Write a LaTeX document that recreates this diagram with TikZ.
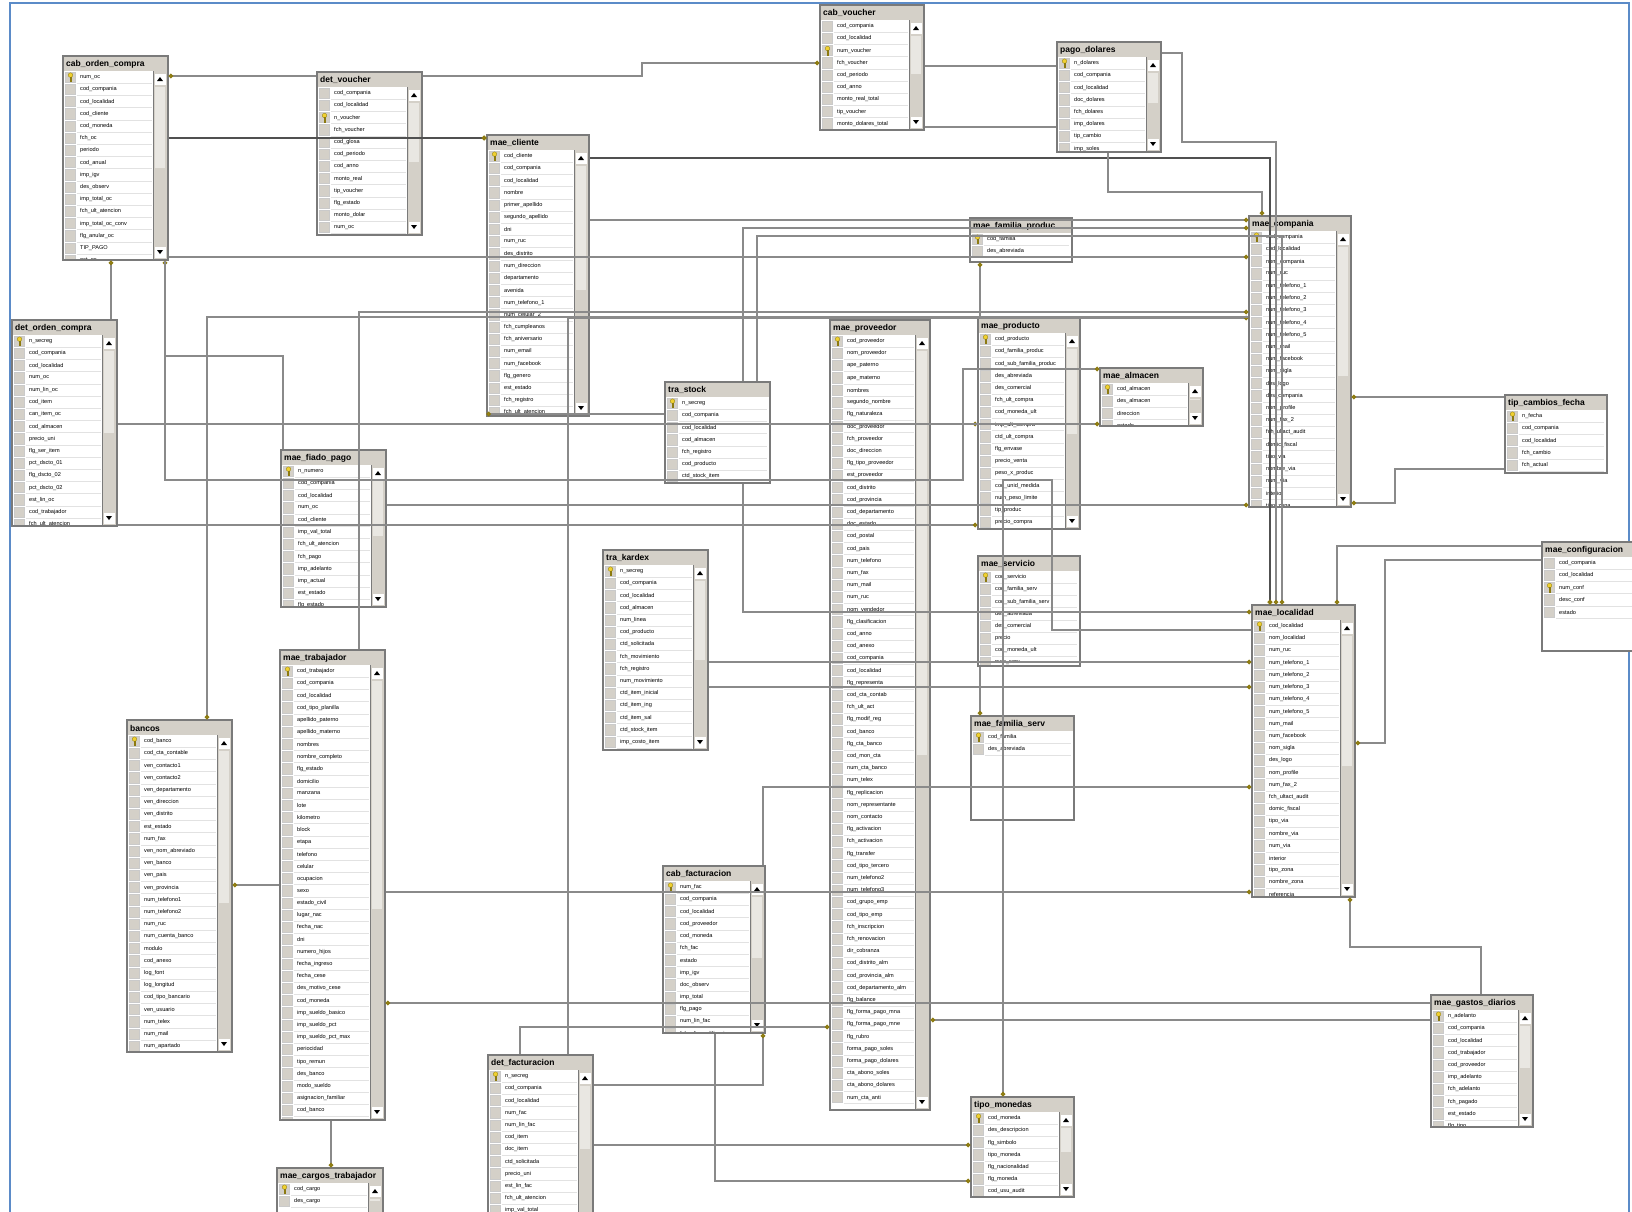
\documentclass[tikz,border=0pt]{standalone}
\usepackage{fontspec}
\setmainfont{Liberation Sans}
\usetikzlibrary{arrows.meta}
\definecolor{panelgray}{HTML}{D4D0C8}
\definecolor{framegray}{HTML}{7A7A7A}
\definecolor{linegray}{HTML}{8A8A8A}
\definecolor{darkline}{HTML}{505050}
\definecolor{keyyellow}{HTML}{F0D030}
\definecolor{keyolive}{HTML}{8C7A10}
\definecolor{sepgray}{HTML}{E2E2E2}
\definecolor{thumbgray}{HTML}{E9E7E2}
\definecolor{borderblue}{HTML}{5B8BC8}
\tikzset{
    tblbox/.style={draw=framegray, fill=white, line width=1.2, inner sep=0},
    tbltitle/.style={anchor=west, font=\bfseries\fontsize{8.5}{9}\selectfont, inner sep=0},
    rowtext/.style={anchor=west, font=\fontsize{5.6}{6}\selectfont, inner sep=0},
    link/.style={draw=linegray, line width=1.4},
    keylink/.style={link, -{Circle[length=4.5pt, color=keyolive, fill=keyyellow]}},
    heavylink/.style={keylink, draw=darkline, line width=2.2}
}
% key glyph in a row selector
\newcommand{\keyicon}[2]{%
  \fill[keyyellow, draw=keyolive, line width=0.3] ({#1},{#2-2}) circle (2.3);
  \fill[keyyellow, draw=keyolive, line width=0.3] ({#1-0.8},{#2}) rectangle ({#1+0.8},{#2+4.2});
}
% name, x, y, width, height, key row, scrollbar, title, fields
\newcommand{\dbtable}[9]{%
  \node[tblbox, minimum width=#4pt, minimum height=#5pt] (#1) at ({#2+#4/2},{#3+#5/2}) {};
  \begin{scope}
    \clip (#2,#3) rectangle ({#2+#4},{#3+#5});
    \fill[panelgray] (#2,#3) rectangle ({#2+#4},{#3+15});
    \node[tbltitle] at ({#2+3},{#3+8}) {#8};
    \ifnum#7=1
      \def\rowend{#2+#4-16}%
      \fill[panelgray] ({#2+#4-15},{#3+15}) rectangle ({#2+#4},{#3+#5});
      \fill[thumbgray] ({#2+#4-13},{#3+31}) rectangle ({#2+#4-3},{#3+#5*0.55});
      \draw[framegray, line width=0.8] ({#2+#4-15},{#3+15}) -- ({#2+#4-15},{#3+#5});
      \filldraw[fill=white, draw=panelgray] ({#2+#4-14},{#3+17}) rectangle ({#2+#4-2},{#3+29});
      \fill[black] ({#2+#4-11},{#3+25}) -- ({#2+#4-5},{#3+25}) -- ({#2+#4-8},{#3+21}) -- cycle;
      \filldraw[fill=white, draw=panelgray] ({#2+#4-14},{#3+#5-14}) rectangle ({#2+#4-2},{#3+#5-2});
      \fill[black] ({#2+#4-11},{#3+#5-10}) -- ({#2+#4-5},{#3+#5-10}) -- ({#2+#4-8},{#3+#5-6}) -- cycle;
    \else
      \def\rowend{#2+#4-3}%
    \fi
    \foreach \fld [count=\i] in {#9} {
      \pgfmathsetmacro\ry{#3+15+(\i-1)*12.2}
      \draw[sepgray, line width=0.6] ({#2+14},{\ry+12.2}) -- ({\rowend},{\ry+12.2});
      \filldraw[fill=panelgray, draw=white!60!framegray, line width=0.4] ({#2+2.5},{\ry+1}) rectangle ({#2+12.5},{\ry+11.2});
      \ifnum\i=#6 \keyicon{#2+7.5}{\ry+6.1}\fi
      \node[rowtext] at ({#2+17},{\ry+6.3}) {\fld};
    }
  \end{scope}
  \draw[framegray, line width=1.2] (#2,#3) rectangle ({#2+#4},{#3+#5});
}

\begin{document}
\catcode`\_=12
\begin{tikzpicture}[x=1pt, y=-1pt]
    \useasboundingbox (0,0) rectangle (1632,1211);
    \clip (0,0) rectangle (1632,1211);
    \fill[white] (0,0) rectangle (1632,1211);
    \draw[borderblue, line width=1.5] (10,3) rectangle (1629,1215);

    % tables
    \dbtable{cab_orden_compra}{63}{56}{105}{204}{1}{1}{cab_orden_compra}{num_oc,cod_compania,cod_localidad,cod_cliente,cod_moneda,fch_oc,periodo,cod_anual,imp_igv,des_observ,imp_total_oc,fch_ult_atencion,imp_total_oc_conv,flg_anular_oc,TIP_PAGO,est_oc}
    \dbtable{det_voucher}{317}{72}{105}{163}{3}{1}{det_voucher}{cod_compania,cod_localidad,n_voucher,fch_voucher,cod_glosa,cod_periodo,cod_anno,monto_real,tip_voucher,flg_estado,monto_dolar,num_oc}
    \dbtable{mae_cliente}{487}{135}{102}{281}{1}{1}{mae_cliente}{cod_cliente,cod_compania,cod_localidad,nombre,primer_apellido,segundo_apellido,dni,num_ruc,des_distrito,num_direccion,departamento,avenida,num_telefono_1,num_celular_2,fch_cumpleanos,fch_aniversario,num_email,num_facebook,flg_genero,est_estado,fch_registro,fch_ult_atencion}
    \dbtable{cab_voucher}{820}{5}{104}{125}{3}{1}{cab_voucher}{cod_compania,cod_localidad,num_voucher,fch_voucher,cod_periodo,cod_anno,monto_real_total,tip_voucher,monto_dolares_total}
    \dbtable{pago_dolares}{1057}{42}{104}{110}{1}{1}{pago_dolares}{n_dolares,cod_compania,cod_localidad,doc_dolares,fch_dolares,imp_dolares,tip_cambio,imp_soles}
    \dbtable{det_orden_compra}{12}{320}{105}{206}{1}{1}{det_orden_compra}{n_secreg,cod_compania,cod_localidad,num_oc,num_lin_oc,cod_item,can_item_oc,cod_almacen,precio_uni,flg_ser_item,pct_dscto_01,flg_dscto_02,pct_dscto_02,est_lin_oc,cod_trabajador,fch_ult_atencion}
    \dbtable{mae_fiado_pago}{281}{450}{105}{157}{1}{1}{mae_fiado_pago}{n_numero,cod_compania,cod_localidad,num_oc,cod_cliente,imp_val_total,fch_ult_atencion,fch_pago,imp_adelanto,imp_actual,est_estado,flg_estado}
    \dbtable{tra_stock}{665}{382}{105}{101}{1}{0}{tra_stock}{n_secreg,cod_compania,cod_localidad,cod_almacen,fch_registro,cod_producto,ctd_stock_item}
    \dbtable{tra_kardex}{603}{550}{105}{200}{1}{1}{tra_kardex}{n_secreg,cod_compania,cod_localidad,cod_almacen,num_linea,cod_producto,ctd_solicitada,fch_movimiento,fch_registro,num_movimiento,ctd_item_inicial,ctd_item_ing,ctd_item_sal,ctd_stock_item,imp_costo_item}
    \dbtable{mae_proveedor}{830}{320}{100}{790}{1}{1}{mae_proveedor}{cod_proveedor,nom_proveedor,ape_paterno,ape_materno,nombres,segundo_nombre,flg_naturaleza,doc_proveedor,fch_proveedor,doc_direccion,flg_tipo_proveedor,est_proveedor,cod_distrito,cod_provincia,cod_departamento,doc_estado,cod_postal,cod_pais,num_telefono,num_fax,num_mail,num_ruc,nom_vendedor,flg_clasificacion,cod_anno,cod_anexo,cod_compania,cod_localidad,flg_representa,cod_cta_contab,fch_ult_act,flg_modif_reg,cod_banco,flg_cta_banco,cod_mon_cta,num_cta_banco,num_telex,flg_replicacion,nom_representante,nom_contacto,flg_activacion,fch_activacion,flg_transfer,cod_tipo_tercero,num_telefono2,num_telefono3,cod_grupo_emp,cod_tipo_emp,fch_inscripcion,fch_renovacion,dir_cobranza,cod_distrito_alm,cod_provincia_alm,cod_departamento_alm,flg_balance,flg_forma_pago_mna,flg_forma_pago_mne,flg_rubro,forma_pago_soles,forma_pago_dolares,cta_abono_soles,cta_abono_dolares,num_cta_anti}
    \dbtable{mae_producto}{978}{318}{102}{211}{1}{1}{mae_producto}{cod_producto,cod_familia_produc,cod_sub_familia_produc,des_abreviada,des_comercial,fch_ult_compra,cod_moneda_ult,imp_ult_compra,ctd_ult_compra,flg_envase,precio_venta,peso_x_produc,cod_unid_medida,num_peso_limite,tip_produc,precio_compra}
    \dbtable{mae_almacen}{1100}{368}{103}{58}{1}{1}{mae_almacen}{cod_almacen,des_almacen,direccion,estado}
    \dbtable{mae_familia_produc}{970}{218}{102}{44}{1}{0}{mae_familia_produc}{cod_familia,des_abreviada}
    \dbtable{mae_compania}{1249}{216}{102}{291}{1}{1}{mae_compania}{cod_compania,cod_localidad,nom_compania,num_ruc,num_telefono_1,num_telefono_2,num_telefono_3,num_telefono_4,num_telefono_5,num_mail,num_facebook,nom_sigla,des_logo,des_compania,nom_profile,num_fax_2,fch_ultact_audit,domic_fiscal,tipo_via,nombre_via,num_via,interior,tipo_zona}
    \dbtable{mae_localidad}{1252}{605}{103}{292}{1}{1}{mae_localidad}{cod_localidad,nom_localidad,num_ruc,num_telefono_1,num_telefono_2,num_telefono_3,num_telefono_4,num_telefono_5,num_mail,num_facebook,nom_sigla,des_logo,nom_profile,num_fax_2,fch_ultact_audit,domic_fiscal,tipo_via,nombre_via,num_via,interior,tipo_zona,nombre_zona,referencia}
    \dbtable{tip_cambios_fecha}{1505}{395}{102}{78}{1}{0}{tip_cambios_fecha}{n_fecha,cod_compania,cod_localidad,fch_cambio,fch_actual}
    \dbtable{mae_configuracion}{1542}{542}{110}{109}{3}{0}{mae_configuracion}{cod_compania,cod_localidad,num_conf,desc_conf,estado}
    \dbtable{mae_servicio}{978}{556}{102}{110}{1}{0}{mae_servicio}{cod_servicio,cod_familia_serv,cod_sub_familia_serv,des_abreviada,des_comercial,precio,cod_moneda_ult,num_serv}
    \dbtable{mae_familia_serv}{971}{716}{103}{104}{1}{0}{mae_familia_serv}{cod_familia,des_abreviada}
    \dbtable{bancos}{127}{720}{105}{332}{1}{1}{bancos}{cod_banco,cod_cta_contable,ven_contacto1,ven_contacto2,ven_departamento,ven_direccion,ven_distrito,est_estado,num_fax,ven_nom_abreviado,ven_banco,ven_pais,ven_provincia,num_telefono1,num_telefono2,num_ruc,num_cuenta_banco,modulo,cod_anexo,log_font,log_longitud,cod_tipo_bancario,ven_usuario,num_telex,num_mail,num_apartado}
    \dbtable{mae_trabajador}{280}{650}{105}{470}{1}{1}{mae_trabajador}{cod_trabajador,cod_compania,cod_localidad,cod_tipo_planilla,apellido_paterno,apellido_materno,nombres,nombre_completo,flg_estado,domicilio,manzana,lote,kilometro,block,etapa,telefono,celular,ocupacion,sexo,estado_civil,lugar_nac,fecha_nac,dni,numero_hijos,fecha_ingreso,fecha_cese,des_motivo_cese,cod_moneda,imp_sueldo_basico,imp_sueldo_pct,imp_sueldo_pct_max,periocidad,tipo_remun,des_banco,modo_sueldo,asignacion_familiar,cod_banco,num_cuenta_banco}
    \dbtable{mae_cargos_trabajador}{277}{1168}{106}{60}{1}{1}{mae_cargos_trabajador}{cod_cargo,des_cargo}
    \dbtable{cab_facturacion}{663}{866}{102}{167}{1}{1}{cab_facturacion}{num_fac,cod_compania,cod_localidad,cod_proveedor,cod_moneda,fch_fac,estado,imp_igv,doc_observ,imp_total,flg_pago,num_lin_fac,fch_ult_modificacion}
    \dbtable{det_facturacion}{488}{1055}{105}{170}{1}{1}{det_facturacion}{n_secreg,cod_compania,cod_localidad,num_fac,num_lin_fac,cod_item,doc_item,ctd_solicitada,precio_uni,est_lin_fac,fch_ult_atencion,imp_val_total}
    \dbtable{tipo_monedas}{971}{1097}{103}{100}{1}{1}{tipo_monedas}{cod_moneda,des_descripcion,flg_simbolo,tipo_moneda,flg_nacionalidad,flg_moneda,cod_usu_audit}
    \dbtable{mae_gastos_diarios}{1431}{995}{102}{132}{1}{1}{mae_gastos_diarios}{n_adelanto,cod_compania,cod_localidad,cod_trabajador,cod_proveedor,imp_adelanto,fch_adelanto,fch_pagado,est_estado,flg_tipo}

    % relations
    \draw[keylink] (det_voucher.west |- 0,76) -- (cab_orden_compra.east |- 0,76);
    \draw[heavylink] (cab_orden_compra.east |- 0,138) -- (mae_cliente.west |- 0,138);
    \draw[keylink] (cab_orden_compra.east |- 0,257) -- (mae_compania.west |- 0,257);
    \draw[keylink] (111,0 |- det_orden_compra.north) -- (111,0 |- cab_orden_compra.south);
    \draw[keylink] (det_voucher.east |- 0,76) -- (642,76) -- (642,63) -- (cab_voucher.west |- 0,63);
    \draw[link] (cab_voucher.east |- 0,66) -- (pago_dolares.west |- 0,66);
    \draw[link] (cab_voucher.east |- 0,127) -- (pago_dolares.west |- 0,127);
    \draw[heavylink] (mae_cliente.east |- 0,158) -- (1270,158) -- (1270,0 |- mae_localidad.north);
    \draw[keylink] (mae_cliente.east |- 0,220) -- (mae_compania.west |- 0,220);
    \draw[keylink] (568,0 |- det_facturacion.north) -- (568,318) -- (mae_compania.west |- 0,318);
    \draw[keylink] (pago_dolares.east |- 0,53) -- (1182,53) -- (1182,142) -- (1276,142) -- (1276,0 |- mae_localidad.north);
    \draw[keylink] (1108,0 |- pago_dolares.south) -- (1108,192) -- (1262,192) -- (1262,0 |- mae_compania.north);
    \draw[keylink] (743,0 |- tra_stock.north) -- (743,228) -- (mae_compania.west |- 0,228);
    \draw[keylink] (757,0 |- tra_stock.north) -- (757,236) -- (1282,236) -- (1282,0 |- mae_localidad.north);
    \draw[keylink] (743,0 |- tra_stock.south) -- (743,612) -- (mae_localidad.west |- 0,612);
    \draw[keylink] (tra_stock.west |- 0,414) -- (mae_cliente.west |- 0,414);
    \draw[keylink] (283,0 |- mae_fiado_pago.north) -- (283,356) -- (165,356) -- (165,0 |- cab_orden_compra.south);
    \draw[keylink] (165,0 |- cab_orden_compra.south) -- (165,480) -- (963,480) -- (963,369) -- (mae_almacen.west |- 0,369);
    \draw[keylink] (det_orden_compra.east |- 0,424) -- (mae_producto.west |- 0,424);
    \draw[keylink] (tra_stock.east |- 0,424) -- (mae_almacen.west |- 0,424);
    \draw[keylink] (det_orden_compra.east |- 0,525) -- (mae_producto.west |- 0,525);
    \draw[keylink] (mae_fiado_pago.east |- 0,505) -- (mae_compania.west |- 0,505);
    \draw[keylink] (mae_compania.west |- 0,317) -- (207,317) -- (207,0 |- bancos.north);
    \draw[keylink] (359,0 |- mae_trabajador.north) -- (359,312) -- (mae_compania.west |- 0,312);
    \draw[keylink] (mae_trabajador.west |- 0,885) -- (bancos.east |- 0,885);
    \draw[keylink] (mae_gastos_diarios.west |- 0,1003) -- (mae_trabajador.east |- 0,1003);
    \draw[keylink] (331,0 |- mae_trabajador.south) -- (331,0 |- mae_cargos_trabajador.north);
    \draw[keylink] (mae_trabajador.east |- 0,892) -- (mae_localidad.west |- 0,892);
    \draw[keylink] (520,0 |- det_facturacion.north) -- (520,1027) -- (mae_proveedor.west |- 0,1027);
    \draw[keylink] (det_facturacion.east |- 0,1085) -- (763,1085) -- (763,0 |- cab_facturacion.south);
    \draw[keylink] (det_facturacion.east |- 0,1145) -- (tipo_monedas.west |- 0,1145);
    \draw[keylink] (715,0 |- cab_facturacion.south) -- (715,1181) -- (tipo_monedas.west |- 0,1181);
    \draw[keylink] (763,0 |- cab_facturacion.north) -- (763,787) -- (mae_localidad.west |- 0,787);
    \draw[keylink] (mae_gastos_diarios.west |- 0,1020) -- (mae_proveedor.east |- 0,1020);
    \draw[keylink] (1481,0 |- mae_gastos_diarios.north) -- (1481,947) -- (1350,947) -- (1350,0 |- mae_localidad.south);
    \draw[keylink] (tip_cambios_fecha.west |- 0,397) -- (mae_compania.east |- 0,397);
    \draw[keylink] (tip_cambios_fecha.west |- 0,469) -- (1395,469) -- (1395,503) -- (mae_compania.east |- 0,503);
    \draw[keylink] (mae_configuracion.west |- 0,546) -- (1337,546) -- (1337,0 |- mae_localidad.north);
    \draw[keylink] (mae_configuracion.west |- 0,560) -- (1385,560) -- (1385,743) -- (mae_localidad.east |- 0,743);
    \draw[keylink] (980,0 |- mae_producto.north) -- (980,0 |- mae_familia_produc.south);
    \draw[keylink] (980,0 |- mae_servicio.south) -- (980,0 |- mae_familia_serv.north);
    \draw[keylink] (mae_localidad.west |- 0,630) -- (1052,630) -- (1052,480) -- (1003,480) -- (1003,0 |- tipo_monedas.north);
    \draw[keylink] (tra_kardex.east |- 0,662) -- (mae_localidad.west |- 0,662);
    \draw[keylink] (tra_kardex.east |- 0,687) -- (mae_localidad.west |- 0,687);
\end{tikzpicture}
\end{document}
